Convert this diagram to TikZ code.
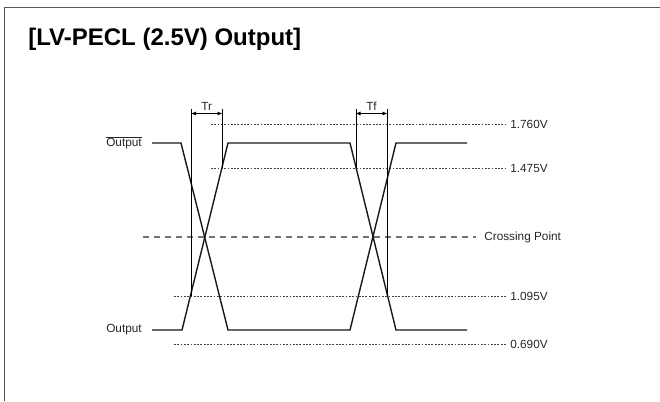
\documentclass[tikz,border=0pt]{standalone}
\usepackage{fontspec}
\setmainfont{Liberation Sans}
\usetikzlibrary{arrows.meta, positioning, calc}

\begin{document}
\begin{tikzpicture}[x=1pt, y=-1pt, >={Triangle[length=4.5pt,width=3.5pt]}, semithick]
	\tikzstyle{level}=[draw=black!75, line width=0.75pt, dash pattern=on 1.8pt off 1.5pt]
	\tikzstyle{crossing}=[draw=black!55, line width=1.1pt, dash pattern=on 6pt off 5pt]
	\tikzstyle{signal}=[draw=black!90, line width=1.4pt, line join=miter]
	\tikzstyle{marker}=[draw=black, line width=0.8pt]
	\tikzstyle{lbl}=[inner sep=0pt, font=\fontsize{11.8}{13}\selectfont, text=black!85]
	
	\useasboundingbox (0,0) rectangle (660,401);
	\draw[black!65, line width=1.3pt] (4.5,401) -- (4.5,7.5) -- (660,7.5);
	
	\node[anchor=base west, inner sep=0pt, font=\bfseries\fontsize{24}{27}\selectfont] (title) at (28,46) {[LV-PECL (2.5V) Output]};
	
	% levels
	\node[lbl, anchor=west] (v1760) at (510,124) {1.760V};
	\node[lbl, anchor=west] (v1475) at (510,168) {1.475V};
	\node[lbl, anchor=west] (cross) at (484,237) {Crossing Point};
	\node[lbl, anchor=west] (v1095) at (510,296) {1.095V};
	\node[lbl, anchor=west] (v0690) at (510,344) {0.690V};
	\coordinate (l1760) at (211,124);
	\coordinate (l1475) at (211,168);
	\coordinate (lcross) at (143,237);
	\coordinate (l1095) at (174,296);
	\coordinate (l0690) at (174,344);
	\draw[level] (l1760) -- ([xshift=-4pt]v1760.west);
	\draw[level] (l1475) -- ([xshift=-4pt]v1475.west);
	\draw[crossing] (lcross) -- ([xshift=-8pt]cross.west);
	\draw[level] (l1095) -- ([xshift=-4pt]v1095.west);
	\draw[level] (l0690) -- ([xshift=-4pt]v0690.west);
	
	% signals
	\node[lbl, anchor=east] (outn) at (142,143) {$\overline{\hbox{Output}}$};
	\node[lbl, anchor=east] (outp) at (142,330) {Output};
	\coordinate (n0) at (152,143); \coordinate (n1) at (181,143);
	\coordinate (n2) at (228,330); \coordinate (n3) at (350,330);
	\coordinate (n4) at (396,143); \coordinate (n5) at (467,143);
	\coordinate (p0) at (152,330); \coordinate (p1) at (182,330);
	\coordinate (p2) at (228,143); \coordinate (p3) at (350,143);
	\coordinate (p4) at (396,330); \coordinate (p5) at (467,330);
	\draw[signal] (n0) -- (n1) -- (n2) -- (n3) -- (n4) -- (n5);
	\draw[signal] (p0) -- (p1) -- (p2) -- (p3) -- (p4) -- (p5);
	
	% rise and fall times
	\coordinate (tra) at (191.5,109); \coordinate (trb) at (222,109);
	\coordinate (tfa) at (356,109); \coordinate (tfb) at (387,109);
	\draw[marker] (tra) -- (191.5,296);
	\draw[marker] (trb) -- (222,168);
	\draw[marker] (tfa) -- (356,168);
	\draw[marker] (tfb) -- (387,296);
	\draw[marker, <->] ($(tra)+(0,4.5)$) -- node[lbl, above=3pt] (tr) {Tr} ($(trb)+(0,4.5)$);
	\draw[marker, <->] ($(tfa)+(0,4.5)$) -- node[lbl, above=3pt] (tf) {Tf} ($(tfb)+(0,4.5)$);
\end{tikzpicture}
\end{document}
